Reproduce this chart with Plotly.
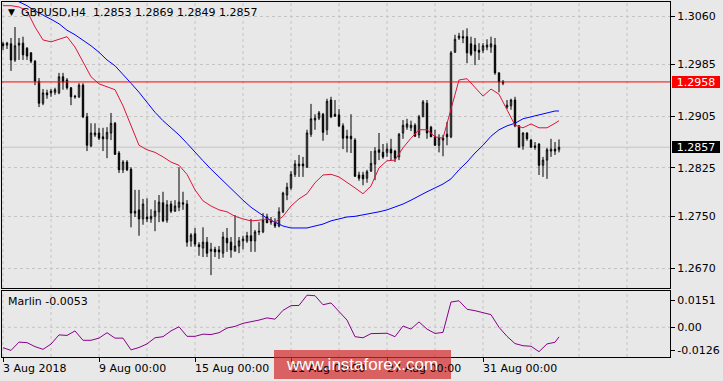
import plotly.graph_objects as go

# ---------------- data ----------------
bar_index = list(range(140))

open_ = [1.3017, 1.3015, 1.3017, 1.2992, 1.3015, 1.3018, 1.3010, 1.3003, 1.2990, 1.2959,
         1.2925, 1.2941, 1.2941, 1.2942, 1.2941, 1.2966, 1.2961, 1.2949, 1.2936, 1.2935,
         1.2953, 1.2904, 1.2859, 1.2876, 1.2879, 1.2873, 1.2870, 1.2879, 1.2894, 1.2848,
         1.2822, 1.2834, 1.2823, 1.2755, 1.2760, 1.2746, 1.2749, 1.2746, 1.2750, 1.2757,
         1.2771, 1.2744, 1.2769, 1.2758, 1.2764, 1.2771, 1.2769, 1.2712, 1.2723, 1.2706,
         1.2701, 1.2710, 1.2696, 1.2699, 1.2698, 1.2693, 1.2716, 1.2710, 1.2696, 1.2704,
         1.2712, 1.2712, 1.2720, 1.2712, 1.2727, 1.2726, 1.2749, 1.2744, 1.2741, 1.2735,
         1.2757, 1.2783, 1.2794, 1.2815, 1.2828, 1.2831, 1.2826, 1.2877, 1.2899, 1.2902,
         1.2908, 1.2884, 1.2930, 1.2908, 1.2907, 1.2890, 1.2874, 1.2874, 1.2868, 1.2814,
         1.2814, 1.2809, 1.2820, 1.2831, 1.2853, 1.2849, 1.2849, 1.2854, 1.2851, 1.2842,
         1.2879, 1.2888, 1.2887, 1.2891, 1.2876, 1.2904, 1.2925, 1.2888, 1.2873, 1.2860,
         1.2871, 1.2877, 1.2873, 1.3004, 1.3026, 1.3028, 1.3028, 1.3017, 1.3015, 1.3007,
         1.3007, 1.3012, 1.3012, 1.3015, 1.2972, 1.2956, 1.2919, 1.2921, 1.2930, 1.2890,
         1.2859, 1.2879, 1.2868, 1.2859, 1.2862, 1.2829, 1.2837, 1.2851, 1.2854, 1.2853]

high = [1.3020, 1.3020, 1.3026, 1.3043, 1.3026, 1.3028, 1.3012, 1.3004, 1.2992, 1.2964,
        1.2947, 1.2946, 1.2947, 1.2949, 1.2972, 1.2972, 1.2964, 1.2950, 1.2938, 1.2956,
        1.2956, 1.2910, 1.2894, 1.2894, 1.2887, 1.2887, 1.2888, 1.2910, 1.2896, 1.2851,
        1.2837, 1.2837, 1.2826, 1.2791, 1.2791, 1.2777, 1.2778, 1.2761, 1.2775, 1.2783,
        1.2788, 1.2775, 1.2774, 1.2775, 1.2826, 1.2788, 1.2775, 1.2724, 1.2732, 1.2710,
        1.2733, 1.2718, 1.2709, 1.2703, 1.2704, 1.2726, 1.2732, 1.2718, 1.2752, 1.2718,
        1.2720, 1.2726, 1.2746, 1.2729, 1.2741, 1.2755, 1.2754, 1.2749, 1.2747, 1.2764,
        1.2788, 1.2802, 1.2820, 1.2837, 1.2845, 1.2842, 1.2884, 1.2924, 1.2908, 1.2913,
        1.2910, 1.2932, 1.2935, 1.2930, 1.2916, 1.2894, 1.2884, 1.2908, 1.2871, 1.2819,
        1.2819, 1.2822, 1.2851, 1.2857, 1.2879, 1.2862, 1.2863, 1.2870, 1.2853, 1.2879,
        1.2899, 1.2901, 1.2898, 1.2894, 1.2907, 1.2930, 1.2930, 1.2890, 1.2884, 1.2877,
        1.2876, 1.2896, 1.3006, 1.3031, 1.3034, 1.3038, 1.3041, 1.3028, 1.3026, 1.3018,
        1.3018, 1.3024, 1.3028, 1.3026, 1.2973, 1.2961, 1.2930, 1.2932, 1.2935, 1.2891,
        1.2880, 1.2880, 1.2870, 1.2865, 1.2863, 1.2842, 1.2856, 1.2870, 1.2865, 1.2869]

low = [1.3007, 1.3009, 1.2975, 1.2989, 1.2992, 1.2992, 1.2992, 1.2987, 1.2953, 1.2919,
       1.2922, 1.2932, 1.2935, 1.2938, 1.2939, 1.2946, 1.2946, 1.2922, 1.2932, 1.2933,
       1.2902, 1.2851, 1.2857, 1.2873, 1.2868, 1.2851, 1.2840, 1.2868, 1.2845, 1.2817,
       1.2817, 1.2820, 1.2733, 1.2749, 1.2720, 1.2737, 1.2741, 1.2740, 1.2727, 1.2741,
       1.2741, 1.2740, 1.2755, 1.2757, 1.2758, 1.2760, 1.2703, 1.2703, 1.2703, 1.2689,
       1.2687, 1.2687, 1.2659, 1.2687, 1.2684, 1.2686, 1.2695, 1.2686, 1.2696, 1.2693,
       1.2699, 1.2709, 1.2695, 1.2695, 1.2721, 1.2724, 1.2740, 1.2737, 1.2732, 1.2733,
       1.2755, 1.2775, 1.2791, 1.2811, 1.2811, 1.2811, 1.2825, 1.2873, 1.2884, 1.2899,
       1.2867, 1.2876, 1.2902, 1.2904, 1.2888, 1.2854, 1.2849, 1.2848, 1.2811, 1.2805,
       1.2798, 1.2802, 1.2819, 1.2806, 1.2837, 1.2839, 1.2842, 1.2837, 1.2834, 1.2837,
       1.2870, 1.2884, 1.2882, 1.2873, 1.2871, 1.2904, 1.2870, 1.2873, 1.2859, 1.2849,
       1.2843, 1.2860, 1.2871, 1.3003, 1.3023, 1.3018, 1.2987, 1.2998, 1.2984, 1.2992,
       1.3003, 1.3007, 1.3003, 1.2969, 1.2942, 1.2953, 1.2916, 1.2915, 1.2888, 1.2857,
       1.2853, 1.2867, 1.2856, 1.2853, 1.2814, 1.2811, 1.2808, 1.2842, 1.2845, 1.2849]

close = [1.3014, 1.3018, 1.2992, 1.3014, 1.3018, 1.3000, 1.2998, 1.2990, 1.2959, 1.2925,
         1.2941, 1.2938, 1.2944, 1.2946, 1.2966, 1.2958, 1.2949, 1.2935, 1.2935, 1.2953,
         1.2904, 1.2860, 1.2879, 1.2879, 1.2871, 1.2870, 1.2880, 1.2894, 1.2846, 1.2822,
         1.2834, 1.2822, 1.2755, 1.2758, 1.2746, 1.2769, 1.2746, 1.2750, 1.2758, 1.2772,
         1.2743, 1.2768, 1.2758, 1.2766, 1.2772, 1.2769, 1.2710, 1.2721, 1.2707, 1.2703,
         1.2710, 1.2693, 1.2699, 1.2695, 1.2695, 1.2718, 1.2709, 1.2698, 1.2704, 1.2712,
         1.2715, 1.2720, 1.2712, 1.2726, 1.2726, 1.2744, 1.2740, 1.2741, 1.2735, 1.2757,
         1.2786, 1.2795, 1.2815, 1.2831, 1.2831, 1.2828, 1.2879, 1.2901, 1.2902, 1.2910,
         1.2880, 1.2928, 1.2904, 1.2905, 1.2890, 1.2871, 1.2871, 1.2870, 1.2812, 1.2809,
         1.2808, 1.2819, 1.2832, 1.2851, 1.2849, 1.2842, 1.2854, 1.2848, 1.2840, 1.2877,
         1.2891, 1.2893, 1.2891, 1.2874, 1.2904, 1.2927, 1.2879, 1.2873, 1.2860, 1.2871,
         1.2868, 1.2873, 1.3003, 1.3024, 1.3029, 1.3026, 1.3003, 1.3001, 1.3006, 1.3004,
         1.3014, 1.3015, 1.3017, 1.2972, 1.2958, 1.2958, 1.2922, 1.2930, 1.2890, 1.2857,
         1.2879, 1.2870, 1.2857, 1.2857, 1.2829, 1.2837, 1.2853, 1.2854, 1.2851, 1.2857]

# indicator samples every second bar (+ the last bar)
ma_index = list(range(0, 140, 2)) + [139]

ma_fast = [1.3076, 1.3076, 1.3074, 1.3068, 1.3043, 1.3023, 1.3020, 1.3024, 1.3028, 1.3012,
           1.2990, 1.2966, 1.2955, 1.2950, 1.2946, 1.2921, 1.2890, 1.2860, 1.2853, 1.2849,
           1.2842, 1.2834, 1.2829, 1.2815, 1.2791, 1.2774, 1.2766, 1.2760, 1.2757, 1.2750,
           1.2746, 1.2743, 1.2744, 1.2746, 1.2741, 1.2750, 1.2766, 1.2777, 1.2785, 1.2802,
           1.2814, 1.2815, 1.2811, 1.2803, 1.2794, 1.2785, 1.2797, 1.2825, 1.2836, 1.2837,
           1.2856, 1.2871, 1.2884, 1.2884, 1.2873, 1.2871, 1.2915, 1.2961, 1.2963, 1.2949,
           1.2936, 1.2947, 1.2939, 1.2915, 1.2891, 1.2887, 1.2893, 1.2887, 1.2887, 1.2894,
           1.2898]

ma_slow = [1.3094, 1.3088, 1.3083, 1.3076, 1.3068, 1.3062, 1.3055, 1.3048, 1.3038, 1.3031,
           1.3023, 1.3014, 1.3004, 1.2992, 1.2983, 1.2970, 1.2956, 1.2942, 1.2927, 1.2911,
           1.2898, 1.2887, 1.2876, 1.2863, 1.2849, 1.2836, 1.2823, 1.2811, 1.2798, 1.2786,
           1.2775, 1.2764, 1.2755, 1.2747, 1.2741, 1.2735, 1.2732, 1.2732, 1.2732, 1.2735,
           1.2738, 1.2743, 1.2746, 1.2749, 1.2750, 1.2752, 1.2754, 1.2757, 1.2760, 1.2764,
           1.2769, 1.2775, 1.2782, 1.2788, 1.2794, 1.2800, 1.2808, 1.2822, 1.2834, 1.2848,
           1.2860, 1.2874, 1.2884, 1.2890, 1.2894, 1.2901, 1.2904, 1.2907, 1.2910, 1.2913,
           1.2913]

marlin = [-0.0113, -0.0128, -0.0082, -0.0085, -0.0107, -0.0122, -0.0093, -0.0042, -0.0045, -0.0020,
          -0.0072, -0.0072, -0.0060, -0.0030, -0.0060, -0.0060, -0.0125, -0.0112, -0.0092, -0.0058,
          -0.0052, -0.0020, 0.0003, -0.0050, -0.0050, -0.0038, -0.0040, -0.0030, -0.0004, 0.0005,
          0.0022, 0.0030, 0.0040, 0.0052, 0.0045, 0.0094, 0.0120, 0.0121, 0.0178, 0.0175,
          0.0125, 0.0135, 0.0090, 0.0040, -0.0052, -0.0058, -0.0035, -0.0034, -0.0033, -0.0052,
          0.0007, -0.0010, 0.0030, -0.0010, -0.0034, -0.0028, 0.0140, 0.0147, 0.0100, 0.0092,
          0.0083, 0.0070, 0.0000, -0.0050, -0.0090, -0.0102, -0.0105, -0.0135, -0.0092, -0.0083,
          -0.0053]

date_tick_bars = [0, 24, 48, 72, 96, 120]
date_tick_labels = ["3 Aug 2018", "9 Aug 00:00", "15 Aug 00:00", "21 Aug 00:00",
                    "27 Aug 00:00", "31 Aug 00:00"]
grid_bars = list(range(0, 168, 12))
price_ticks = [1.3060, 1.2985, 1.2905, 1.2825, 1.2750, 1.2670]
marlin_ticks = [0.0151, 0.0, -0.0126]
marlin_tick_labels = ["0.0151", "0.00", "-0.0126"]
level_price = 1.2958
bid_price = close[-1]
symbol = "GBPUSD,H4"

# ---------------- styling / layout ----------------
BG = "#E8E8E8"
GRID = "#C4C4C4"
FONT = "DejaVu Sans"
W, H = 723, 381
ML, MR, MT, MB = 2, 53, 2, 24
PH = H - MT - MB  # plot height in px
PW = W - ML - MR


def py(p):  # pixel row -> paper y
    return (H - MB - p) / PH


def px(p):  # pixel column -> paper x
    return (p - ML) / PW


fig = go.Figure()
fig.add_trace(go.Candlestick(
    x=bar_index, open=open_, high=high, low=low, close=close,
    increasing=dict(line=dict(color="black", width=1), fillcolor="white"),
    decreasing=dict(line=dict(color="black", width=1), fillcolor="black"),
    whiskerwidth=0, hoverinfo="skip", showlegend=False, xaxis="x", yaxis="y"))
fig.add_trace(go.Scatter(x=ma_index, y=ma_slow, mode="lines",
                         line=dict(color="#0000FF", width=1), hoverinfo="skip",
                         xaxis="x", yaxis="y"))
fig.add_trace(go.Scatter(x=ma_index, y=ma_fast, mode="lines",
                         line=dict(color="#DC143C", width=1), hoverinfo="skip",
                         xaxis="x", yaxis="y"))
fig.add_trace(go.Scatter(x=ma_index, y=marlin, mode="lines",
                         line=dict(color="#8B008B", width=1), hoverinfo="skip",
                         xaxis="x2", yaxis="y2"))

XR = [-0.25, 166.75]
fig.update_layout(
    width=W, height=H, margin=dict(l=ML, r=MR, t=MT, b=MB, autoexpand=False),
    paper_bgcolor=BG, plot_bgcolor=BG, showlegend=False, boxgap=0.5,
    font=dict(family=FONT, size=11, color="black"),
    xaxis=dict(domain=[0, 1], anchor="y", range=XR, showticklabels=False, ticks="",
               showgrid=False, zeroline=False, showline=True, linecolor="black",
               linewidth=1, mirror=True, rangeslider=dict(visible=False)),
    yaxis=dict(domain=[py(288), 1], anchor="x", side="right",
               range=[1.26391, 1.30817], tickmode="array", tickvals=price_ticks,
               ticktext=[f"{v:.4f}" for v in price_ticks], ticks="outside",
               ticklen=4, tickcolor="black", showgrid=True, gridcolor=GRID,
               griddash="3px,3px", gridwidth=1, showline=True, linecolor="black",
               linewidth=1, mirror=True, zeroline=False),
    xaxis2=dict(domain=[0, 1], anchor="y2", range=XR, tickmode="array",
                tickvals=date_tick_bars, showticklabels=False, ticks="outside",
                ticklen=4, tickcolor="black", showgrid=False, zeroline=False,
                showline=True, linecolor="black", linewidth=1, mirror=True),
    yaxis2=dict(domain=[0, py(291)], anchor="x2", side="right",
                range=[-0.01645, 0.02011], tickmode="array", tickvals=marlin_ticks,
                ticktext=marlin_tick_labels, ticks="outside", ticklen=4,
                tickcolor="black", showgrid=False, showline=True, linecolor="black",
                linewidth=1, mirror=True, zeroline=False),
)

shapes = []
# vertical dashed grid every 12 bars in both panes
for gb in grid_bars:
    for xr, yr in (("x", "y domain"), ("x2", "y2 domain")):
        shapes.append(dict(type="line", xref=xr, yref=yr, x0=gb, x1=gb, y0=0, y1=1,
                           line=dict(color=GRID, width=1, dash="3px,3px"), layer="below"))
shapes += [
    dict(type="line", xref="x domain", yref="y", x0=0, x1=1, y0=bid_price, y1=bid_price,
         line=dict(color="#C4C4C4", width=1), layer="below"),
    dict(type="line", xref="x domain", yref="y", x0=0, x1=1, y0=level_price, y1=level_price,
         line=dict(color="#FF0000", width=1), layer="above"),
    dict(type="line", xref="x2 domain", yref="y2", x0=0, x1=1, y0=0, y1=0,
         line=dict(color=GRID, width=1, dash="3px,3px"), layer="below"),
    dict(type="rect", xref="paper", yref="paper", x0=px(274), x1=px(451),
         y0=py(379), y1=py(350), fillcolor="rgba(212,45,45,0.72)",
         line=dict(width=0), layer="above"),
]
fig.update_layout(shapes=shapes)

ann = []
for b, t in zip(date_tick_bars, date_tick_labels):
    ann.append(dict(x=b, xref="x2", y=0, yref="paper", yanchor="top", xanchor="left",
                    xshift=-2, yshift=-3, text=t, showarrow=False,
                    font=dict(family=FONT, size=11, color="black")))
ann.append(dict(x=0, xref="paper", y=py(12), yref="paper", xanchor="left",
                yanchor="middle", xshift=4, text="▼", showarrow=False,
                font=dict(family=FONT, size=9, color="black")))
ann.append(dict(x=0, xref="paper", y=py(13), yref="paper", xanchor="left",
                yanchor="middle", xshift=17,
                text=f"{symbol}\u00a0\u00a0{open_[-1]:.4f} {high[-1]:.4f} "
                     f"{low[-1]:.4f} {close[-1]:.4f}",
                showarrow=False, font=dict(family=FONT, size=11, color="black")))
ann.append(dict(x=0, xref="paper", y=py(301.5), yref="paper", xanchor="left",
                yanchor="middle", xshift=4, text=f"Marlin {marlin[-1]:.4f}",
                showarrow=False, font=dict(family=FONT, size=11, color="black")))
ann.append(dict(x=1, xref="paper", y=level_price, yref="y", xanchor="left",
                yanchor="middle", xshift=2, text=f"{level_price:.4f}", showarrow=False,
                bgcolor="#FF0000", borderwidth=0, borderpad=1, width=46, height=10,
                align="center", font=dict(family=FONT, size=11, color="white")))
ann.append(dict(x=1, xref="paper", y=bid_price, yref="y", xanchor="left",
                yanchor="middle", xshift=2, text=f"{bid_price:.4f}", showarrow=False,
                bgcolor="#000000", borderwidth=0, borderpad=1, width=46, height=10,
                align="center", font=dict(family=FONT, size=11, color="white")))
ann.append(dict(x=px(362), xref="paper", y=py(364.5), yref="paper", xanchor="center",
                yanchor="middle", text="www.instaforex.com", showarrow=False,
                font=dict(family="Liberation Sans", size=17, color="white")))
fig.update_layout(annotations=ann)

fig.write_html(
    "out.html",
    config={"displayModeBar": False},
    post_script="document.body.style.margin='0';document.body.style.overflow='hidden';",
)
